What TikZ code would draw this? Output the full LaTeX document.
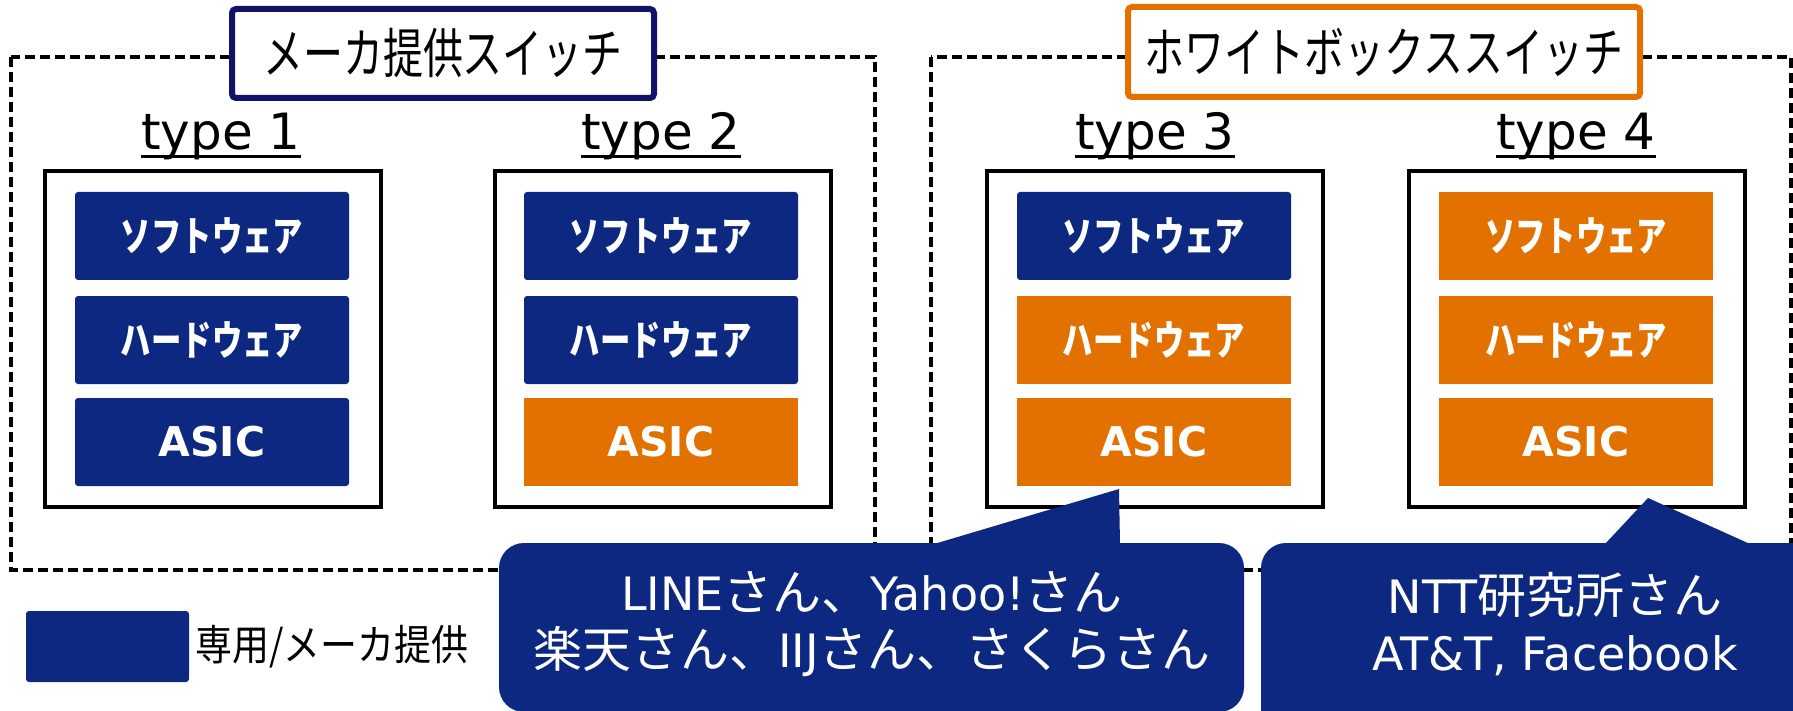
\documentclass[tikz,border=0pt]{standalone}
\usepackage{fontspec}
\setmainfont{DejaVu Sans}
\newfontfamily\jp{Noto Sans CJK JP}
\newfontfamily\jptitle{Noto Sans CJK JP}[FakeStretch=0.74]
\newfontfamily\jplab{Noto Sans CJK JP}[FakeStretch=0.74]
\newfontfamily\jpleg{Noto Sans CJK JP}[FakeStretch=0.88]
\definecolor{navy}{RGB}{12,40,128}
\definecolor{titlenavy}{RGB}{18,18,104}
\definecolor{orng}{RGB}{226,113,0}
\newcommand\J[1]{{\fontsize{24.5}{28.5}\jp #1}}
\tikzset{
  navybox/.style={fill=navy, rounded corners=1.5pt, minimum width=137pt, minimum height=44pt, inner sep=0pt, text=white, font=\fontsize{20.5}{24}\selectfont\bfseries},
  orangebox/.style={navybox, fill=orng, sharp corners},
  typebox/.style={draw=black, line width=2pt, minimum width=168pt, minimum height=168pt, inner sep=0pt, fill=white},
  grpbox/.style={draw=black, line width=1.8pt, dash pattern=on 5pt off 2.5pt},
  titlebox/.style={fill=white, line width=3pt, rounded corners=2pt, inner sep=0pt, font=\fontsize{27}{32}\jptitle},
  typelabel/.style={font=\fontsize{25}{30}\selectfont, anchor=base, inner sep=0pt},
  uline/.style={line width=1.5pt},
  callouttext/.style={text=white, align=center, font=\fontsize{23}{28.5}\selectfont, inner sep=0pt},
}
\begin{document}
\begin{tikzpicture}[x=0.5pt,y=-0.5pt]
\useasboundingbox (0,0) rectangle (1793,711);
\clip (0,0) rectangle (1793,711);

% group boxes
\draw[grpbox] (11,57) rectangle (875,570);
\draw[grpbox] (931,57) rectangle (1791,570);

% titles
\node[titlebox, draw=titlenavy, minimum width=211pt, minimum height=44.5pt] (g1) at (443,53.5) {メーカ提供スイッチ};
\node[titlebox, draw=orng, minimum width=256pt, minimum height=45pt] (g2) at (1384,52) {ホワイトボックススイッチ};

% type labels
\node[typelabel] (l1) at (221,150) {type 1};
\node[typelabel] (l2) at (661,150) {type 2};
\node[typelabel] (l3) at (1155,150) {type 3};
\node[typelabel] (l4) at (1576,150) {type 4};
\foreach \n in {l1,l2,l3,l4}
  \draw[uline] ([yshift=-3.5pt]\n.base west) -- ([yshift=-3.5pt]\n.base east);

% type boxes
\node[typebox] (b1) at (213,339) {};
\node[typebox] (b2) at (662.5,339) {};
\node[typebox] (b3) at (1155,339) {};
\node[typebox] (b4) at (1577,339) {};

% layers
\node[navybox] (s1) at (212,236) {\jplab ソフトウェア};
\node[navybox] (h1) at (212,340) {\jplab ハードウェア};
\node[navybox] (a1) at (212,442) {ASIC};

\node[navybox] (s2) at (661,236) {\jplab ソフトウェア};
\node[navybox] (h2) at (661,340) {\jplab ハードウェア};
\node[orangebox] (a2) at (661,442) {ASIC};

\node[navybox] (s3) at (1154,236) {\jplab ソフトウェア};
\node[orangebox] (h3) at (1154,340) {\jplab ハードウェア};
\node[orangebox] (a3) at (1154,442) {ASIC};

\node[orangebox] (s4) at (1576,236) {\jplab ソフトウェア};
\node[orangebox] (h4) at (1576,340) {\jplab ハードウェア};
\node[orangebox] (a4) at (1576,442) {ASIC};

% legend
\node[fill=navy, rounded corners=1.5pt, minimum width=81.5pt, minimum height=35.5pt, inner sep=0pt] (lg) at (107.5,646.5) {};
\node[anchor=west, inner sep=0pt, font=\fontsize{21}{25}\jpleg] (lgt) at (195,647) {専用/メーカ提供};

% callouts
\fill[navy, rounded corners=12.5pt] (499,543) rectangle (1244,712);
\fill[navy] (934,544) -- (1119,489) -- (1120,544) -- cycle;
\fill[navy, rounded corners=12.5pt] (1261,543) rectangle (1860,760);
\fill[navy] (1605,544) -- (1648,498) -- (1750,544) -- cycle;

\node[callouttext] (c1) at (872,624) {LINE\J{さん、}Yahoo!\J{さん}\\\J{楽天さん、}IIJ\J{さん、さくらさん}};
\node[callouttext] (c2) at (1555,624) {NTT\J{研究所さん}\\AT\&T, Facebook};
\end{tikzpicture}
\end{document}
